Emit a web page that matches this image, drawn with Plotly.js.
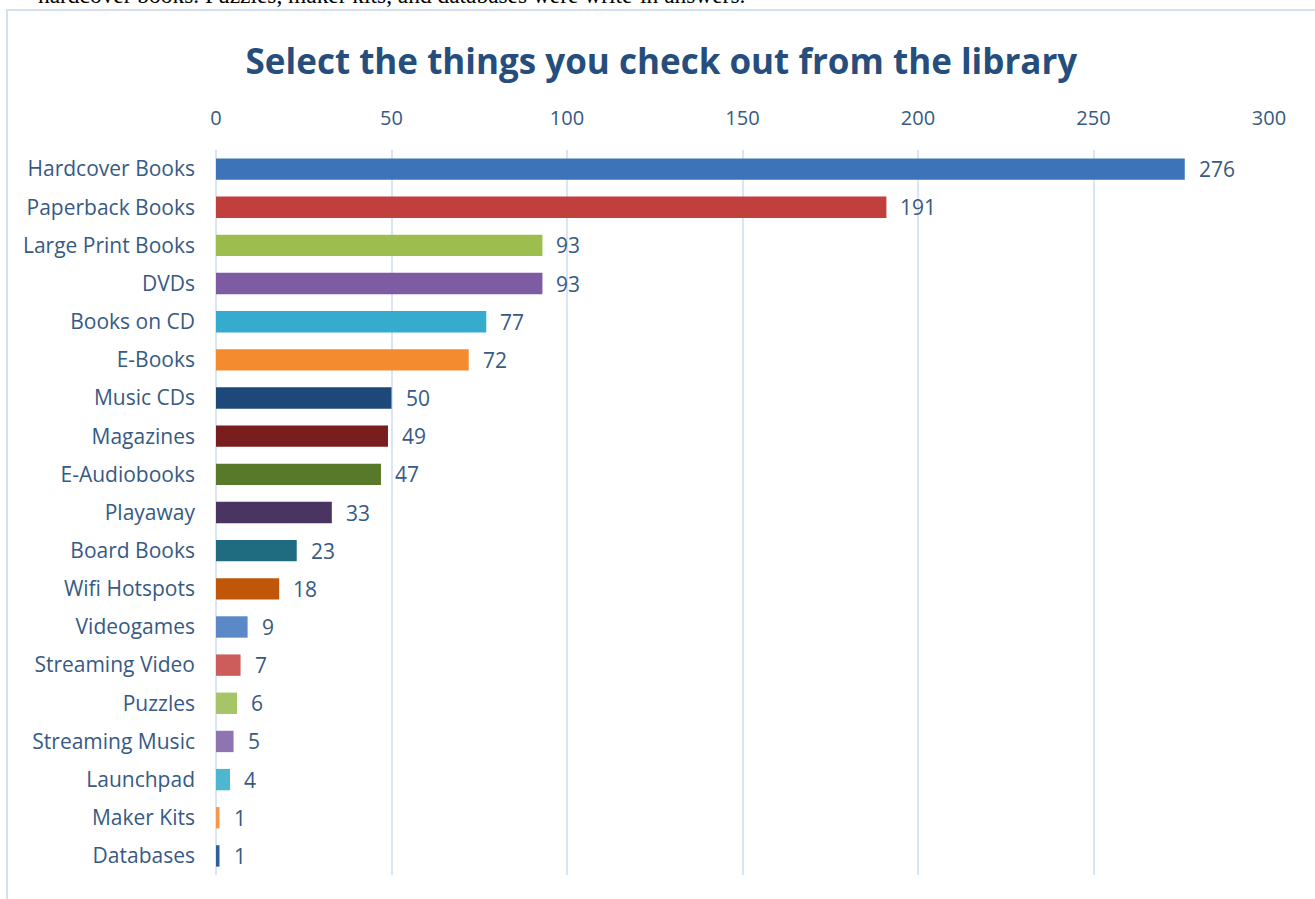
<!DOCTYPE html>
<html>
<head>
<meta charset="utf-8">
<script src="https://cdn.plot.ly/plotly-3.0.1.min.js"></script>
<style>
  html, body { margin: 0; padding: 0; background: #ffffff; }
  #chart { width: 1315px; height: 899px; }
</style>
</head>
<body>
<div id="chart"></div>
<script>
const categories = [
  "Hardcover Books", "Paperback Books", "Large Print Books", "DVDs", "Books on CD",
  "E-Books", "Music CDs", "Magazines", "E-Audiobooks", "Playaway", "Board Books",
  "Wifi Hotspots", "Videogames", "Streaming Video", "Puzzles", "Streaming Music",
  "Launchpad", "Maker Kits", "Databases"
];
const counts = [276, 191, 93, 93, 77, 72, 50, 49, 47, 33, 23, 18, 9, 7, 6, 5, 4, 1, 1];
const barColors = [
  "#3D74B9", "#C13F3C", "#9DBE4F", "#7D5CA4", "#35ACCD", "#F48B2E",
  "#1F487A", "#781E1E", "#59792A", "#4A3462", "#1F6B7F", "#C05607",
  "#5B88C6", "#CD5D5B", "#A6C566", "#8F74B2", "#4DB6D0", "#F79646", "#2F5E98"
];
const xTicks = [0, 50, 100, 150, 200, 250, 300];
const titleText = "Select the things you check out from the library";
const noteText = "hardcover books. Puzzles, maker kits, and databases were write-in answers.";

const textColor = "#375A84";
const font = "Open Sans, Noto Sans, sans-serif";

const trace = {
  type: "bar",
  orientation: "h",
  x: counts,
  y: categories,
  marker: { color: barColors, line: { width: 0 } },
  width: 0.56,
  hoverinfo: "x+y"
};

const valueLabels = categories.map((c, i) => ({
  x: counts[i], y: c, xref: "x", yref: "y",
  text: String(counts[i]), showarrow: false,
  xanchor: "left", yanchor: "middle", xshift: 12,
  font: { family: font, size: 21, color: textColor }
}));

const layout = {
  width: 1315, height: 899,
  margin: { l: 216, r: 46, t: 150, b: 24 },
  paper_bgcolor: "#ffffff",
  plot_bgcolor: "#ffffff",
  showlegend: false,
  title: {
    text: "<b>" + titleText + "</b>",
    font: { family: font, size: 35, color: "#264E7D" },
    xref: "container", x: 0.503, xanchor: "center",
    yref: "container", y: 0.931, yanchor: "middle"
  },
  xaxis: {
    side: "top",
    range: [0, 300],
    tickvals: xTicks,
    ticktext: xTicks.map(String),
    showgrid: true,
    gridcolor: "#D9E5F4",
    gridwidth: 2,
    zeroline: true,
    zerolinecolor: "#D9E5F4",
    zerolinewidth: 2,
    showline: false,
    ticks: "",
    ticklabelstandoff: 20,
    tickfont: { family: font, size: 20, color: textColor },
    fixedrange: true
  },
  yaxis: {
    type: "category",
    autorange: "reversed",
    showgrid: false,
    zeroline: false,
    showline: false,
    ticks: "",
    ticklabelstandoff: 20,
    tickfont: { family: font, size: 21, color: textColor },
    fixedrange: true
  },
  annotations: valueLabels.concat([{
    text: noteText, showarrow: false,
    xref: "paper", yref: "paper",
    x: (36 - 216) / 1053, xanchor: "left",
    y: (875 + 5) / 725, yanchor: "middle",
    font: { family: "Liberation Serif, Times New Roman, serif", size: 23.4, color: "#000000" }
  }]),
  shapes: [{
    type: "rect", xref: "paper", yref: "paper",
    x0: (7 - 216) / 1053, x1: (1330 - 216) / 1053,
    y0: (875 - 10) / 725, y1: (875 - 915) / 725,
    line: { color: "#D4E0EF", width: 2 },
    fillcolor: "rgba(0,0,0,0)",
    layer: "below"
  }]
};

Plotly.newPlot("chart", [trace], layout, { displayModeBar: false, staticPlot: true });
</script>
</body>
</html>
